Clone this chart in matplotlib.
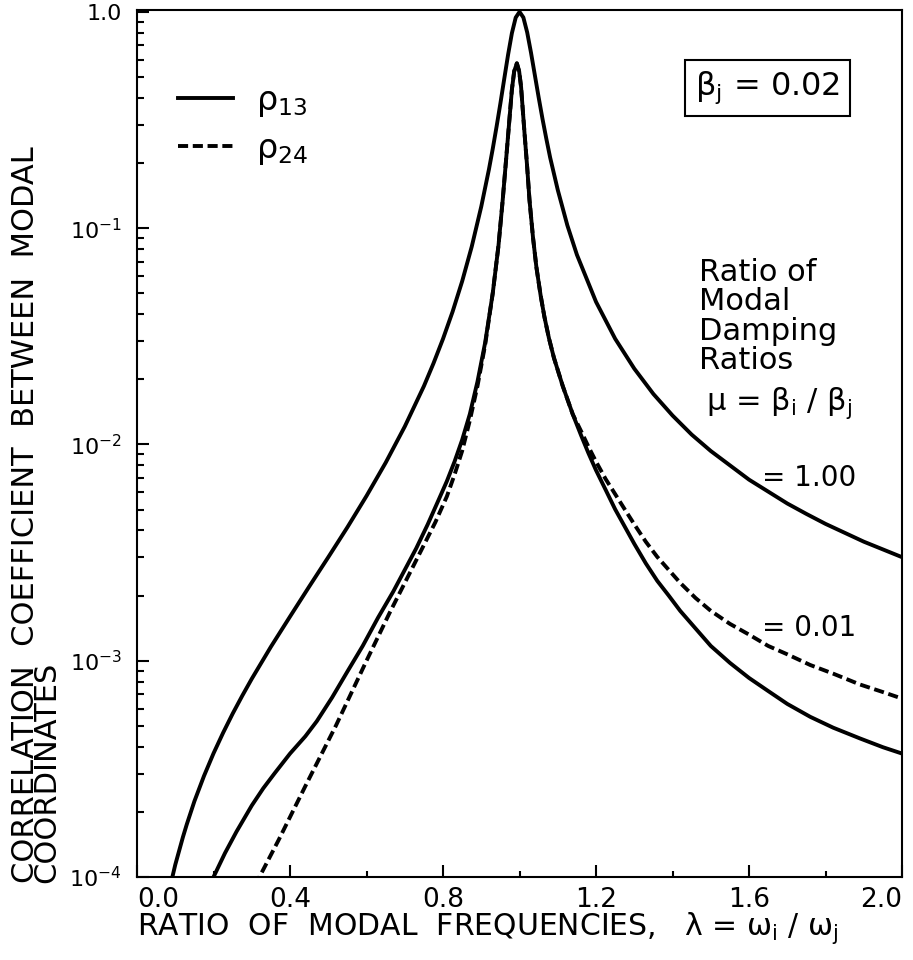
import numpy as np
import matplotlib
matplotlib.use('Agg')
import matplotlib.pyplot as plt
import matplotlib.ticker as ticker

plt.rcParams['font.family'] = 'DejaVu Sans'
plt.rcParams['mathtext.fontset'] = 'dejavusans'
plt.rcParams['mathtext.default'] = 'regular'

# mu = 1.00 (rho13 = rho24)
top_x = [0.09, 0.10, 0.12, 0.13, 0.15, 0.175, 0.20, 0.225, 0.25, 0.275, 0.30, 0.35,
         0.40, 0.45, 0.50, 0.55, 0.60, 0.65, 0.70, 0.75, 0.775, 0.80, 0.825, 0.85,
         0.875, 0.90, 0.92, 0.93, 0.94, 0.95, 0.96, 0.97, 0.98, 0.99, 1.00, 1.01,
         1.02, 1.03, 1.04, 1.05, 1.06, 1.07, 1.08, 1.10, 1.125, 1.15, 1.20, 1.25,
         1.30, 1.35, 1.40, 1.45, 1.50, 1.60, 1.70, 1.75, 1.80, 1.90, 2.00]
top_y = [9.6e-5, 1.14e-4, 1.53e-4, 1.75e-4, 2.24e-4, 2.93e-4, 3.73e-4, 4.64e-4,
         5.69e-4, 6.88e-4, 8.25e-4, 1.16e-3, 1.60e-3, 2.20e-3, 3.01e-3, 4.14e-3,
         5.78e-3, 8.23e-3, 0.0121, 0.0186, 0.0237, 0.0308, 0.0411, 0.0568, 0.0821,
         0.126, 0.187, 0.233, 0.295, 0.378, 0.490, 0.633, 0.797, 0.941, 1.0, 0.942,
         0.803, 0.647, 0.510, 0.402, 0.320, 0.259, 0.212, 0.150, 0.103, 0.0753,
         0.0456, 0.0308, 0.0224, 0.0171, 0.0136, 0.0111, 9.32e-3, 6.87e-3, 5.33e-3,
         4.77e-3, 4.29e-3, 3.55e-3, 3.01e-3]

# mu = 0.01, rho13 (solid)
low_x = [0.19, 0.20, 0.23, 0.26, 0.30, 0.33, 0.36, 0.40, 0.44, 0.47, 0.51, 0.55,
         0.59, 0.63, 0.67, 0.70, 0.73, 0.76, 0.79, 0.81, 0.83, 0.85, 0.87, 0.89,
         0.91, 0.93, 0.945, 0.956, 0.965, 0.972, 0.980, 0.986, 0.993, 0.999, 1.004,
         1.013, 1.020, 1.026, 1.035, 1.044, 1.055, 1.065, 1.077, 1.09, 1.113, 1.139,
         1.161, 1.18, 1.20, 1.225, 1.25, 1.275, 1.30, 1.33, 1.36, 1.39, 1.42, 1.46,
         1.50, 1.55, 1.60, 1.65, 1.70, 1.76, 1.82, 1.89, 1.95, 2.00]
low_y = [9.1e-5, 1.0e-4, 1.29e-4, 1.62e-4, 2.14e-4, 2.57e-4, 3.02e-4, 3.72e-4,
         4.47e-4, 5.25e-4, 6.76e-4, 8.91e-4, 1.17e-3, 1.58e-3, 2.09e-3, 2.63e-3,
         3.31e-3, 4.27e-3, 5.62e-3, 6.76e-3, 8.32e-3, 0.0105, 0.0138, 0.0195,
         0.0295, 0.0501, 0.0832, 0.135, 0.209, 0.295, 0.437, 0.531, 0.578, 0.531,
         0.450, 0.275, 0.191, 0.135, 0.0912, 0.0661, 0.0490, 0.0389, 0.0309,
         0.0251, 0.0186, 0.0138, 0.0110, 9.12e-3, 7.59e-3, 6.17e-3, 5.01e-3,
         4.17e-3, 3.47e-3, 2.82e-3, 2.34e-3, 2.0e-3, 1.70e-3, 1.41e-3, 1.17e-3,
         9.77e-4, 8.32e-4, 7.24e-4, 6.31e-4, 5.50e-4, 4.90e-4, 4.37e-4, 3.98e-4,
         3.72e-4]

# mu = 0.01, rho24 (dashed)
dash_x = [0.31, 0.32, 0.37, 0.44, 0.52, 0.60, 0.66, 0.72, 0.78, 0.81, 0.83, 0.85,
          0.87, 0.89, 0.91, 0.93, 0.945, 0.956, 0.965, 0.972, 0.980, 0.986, 0.993,
          0.999, 1.004, 1.013, 1.020, 1.026, 1.035, 1.044, 1.055, 1.065, 1.077,
          1.09, 1.113, 1.139, 1.161, 1.18, 1.20, 1.225, 1.25, 1.275, 1.30, 1.33,
          1.36, 1.39, 1.42, 1.46, 1.50, 1.55, 1.60, 1.65, 1.70, 1.76, 1.82, 1.89,
          1.95, 2.00]
dash_y = [9.1e-5, 1.0e-4, 1.48e-4, 2.63e-4, 5.01e-4, 1.0e-3, 1.66e-3, 2.69e-3,
          4.37e-3, 5.75e-3, 7.24e-3, 9.33e-3, 0.0129, 0.0186, 0.0288, 0.0501,
          0.0832, 0.135, 0.209, 0.295, 0.437, 0.531, 0.578, 0.531, 0.450, 0.275,
          0.191, 0.135, 0.0912, 0.0661, 0.0490, 0.0389, 0.0309, 0.0251, 0.0186,
          0.0138, 0.0115, 9.77e-3, 8.32e-3, 6.92e-3, 5.89e-3, 5.01e-3, 4.27e-3,
          3.55e-3, 3.02e-3, 2.63e-3, 2.29e-3, 1.95e-3, 1.70e-3, 1.48e-3, 1.32e-3,
          1.17e-3, 1.07e-3, 9.55e-4, 8.71e-4, 7.76e-4, 7.16e-4, 6.68e-4]

x_ticks = [0.0, 0.4, 0.8, 1.2, 1.6, 2.0]
x_ticklabels = ['0.0', '0.4', '0.8', '1.2', '1.6', '2.0']
y_ticks = [1e-4, 1e-3, 1e-2, 1e-1, 1.0]
y_ticklabels = [r'$10^{-4}$', r'$10^{-3}$', r'$10^{-2}$', r'$10^{-1}$', '1.0']

fig = plt.figure(figsize=(9.13, 9.6), dpi=100)
ax = fig.add_axes([0.1501, 0.0865, 0.8379, 0.9031])

lw = 2.8
ax.plot(dash_x, dash_y, color='black', lw=lw, ls=(0, (2.6, 1.2)), label=r'$\rho_{24}$')
ax.plot(low_x, low_y, color='black', lw=lw)
ax.plot(top_x, top_y, color='black', lw=lw, label=r'$\rho_{13}$')

ax.set_yscale('log')
ax.set_xlim(0, 2.0)
ax.set_ylim(1e-4, 1.02)

ax.set_xticks(x_ticks)
ax.set_xticklabels(x_ticklabels)
ax.xaxis.set_minor_locator(ticker.MultipleLocator(0.2))
ax.set_yticks(y_ticks)
ax.set_yticklabels(y_ticklabels)
ax.yaxis.set_minor_locator(ticker.LogLocator(base=10, subs=np.arange(2, 10)))
ax.yaxis.set_minor_formatter(ticker.NullFormatter())

ax.tick_params(which='both', direction='in', width=1.5)
ax.tick_params(axis='x', which='major', length=9, pad=7, labelsize=19)
ax.tick_params(axis='x', which='minor', length=4.5)
ax.tick_params(axis='y', which='major', length=8.5, pad=11, labelsize=16)
ax.tick_params(axis='y', which='minor', length=5)
labs = ax.get_xticklabels()
labs[0].set_horizontalalignment('left')
labs[-1].set_horizontalalignment('right')
for s in ax.spines.values():
    s.set_linewidth(1.5)

# legend
h, l = ax.get_legend_handles_labels()
ax.legend(h[::-1], l[::-1], loc='upper left', bbox_to_anchor=(0.054, 0.915),
          frameon=False, fontsize=24, handlelength=1.63, handletextpad=0.7,
          labelspacing=0.4, borderpad=0, borderaxespad=0)

ax.text(0.824, 0.910, r'$\beta_j$ = 0.02', transform=ax.transAxes, fontsize=23,
        ha='center', va='center',
        bbox=dict(boxstyle='square,pad=0.3', fc='white', ec='black', lw=1.5))

ax.text(0.735, 0.714, 'Ratio of\nModal\nDamping\nRatios', transform=ax.transAxes,
        fontsize=22, ha='left', va='top', linespacing=1.02)
ax.text(0.744, 0.539, r'$\mu$ = $\beta_i$ / $\beta_j$', transform=ax.transAxes,
        fontsize=22, ha='left', va='baseline')
ax.text(0.817, 0.460, '= 1.00', transform=ax.transAxes, fontsize=20,
        ha='left', va='center')
ax.text(0.817, 0.287, '= 0.01', transform=ax.transAxes, fontsize=20,
        ha='left', va='center')

# axis labels
fig.text(0.012, 0.080, 'CORRELATION  COEFFICIENT  BETWEEN  MODAL\nCOORDINATES',
         rotation=90, fontsize=22, ha='left', va='bottom', multialignment='left',
         linespacing=0.68)
fig.text(0.150, 0.026, r'RATIO  OF  MODAL  FREQUENCIES,   $\lambda$ = $\omega_i$ / $\omega_j$',
         fontsize=21.5, ha='left', va='baseline')

fig.savefig('out.png', dpi=100)
